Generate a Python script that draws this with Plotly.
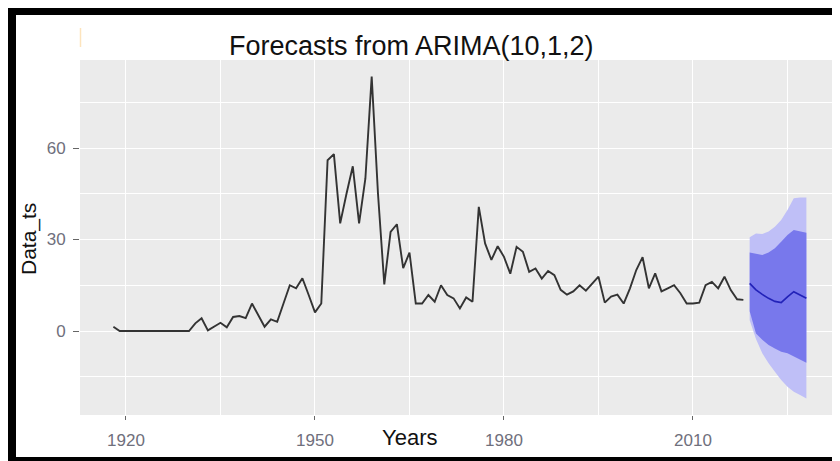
import plotly.graph_objects as go

# ---------------- data ----------------
obs_years = list(range(1918, 2019))
obs_values = [
    1.4, 0, 0, 0, 0, 0, 0, 0, 0, 0, 0, 0, 0,          # 1918-1930
    2.5, 4.2, 0.2, 1.4, 2.7, 1.2, 4.6, 4.9, 4.2, 9.0,  # 1931-1940
    5.2, 1.4, 3.8, 3.0, 9.0, 15.0, 14.0, 17.3, 11.8, 6.1,  # 1941-1950
    9.0, 56.0, 58.0, 35.3, 45.0, 54.0, 35.3, 50.0, 83.4, 45.0,  # 1951-1960
    15.3, 32.5, 35.0, 20.6, 25.7, 9.0, 9.0, 11.8, 9.6, 15.0,  # 1961-1970
    11.8, 10.7, 7.4, 11.0, 9.6, 40.7, 28.7, 23.3, 27.8, 24.3,  # 1971-1980
    18.8, 27.6, 26.0, 19.4, 20.5, 17.2, 19.7, 18.3, 13.5, 11.9,  # 1981-1990
    13.0, 15.0, 13.2, 15.4, 17.8, 9.3, 11.3, 11.9, 9.0, 14.0,  # 1991-2000
    20.0, 24.2, 14.0, 18.9, 13.0, 14.0, 15.0, 12.4, 9.0, 9.0,  # 2001-2010
    9.3, 15.0, 16.1, 14.0, 17.8, 13.4, 10.4, 10.2,  # 2011-2018
]

fc_years = list(range(2019, 2029))
fc_mean = [15.6, 13.5, 12.0, 10.7, 9.7, 9.3, 11.2, 12.9, 11.8, 10.7]
fc_hi80 = [25.7, 25.2, 24.9, 25.7, 27.1, 29.3, 31.5, 33.1, 32.6, 32.2]
fc_lo80 = [6.5, -0.8, -2.9, -4.6, -5.7, -6.8, -7.3, -8.4, -9.5, -10.4]
fc_hi95 = [30.7, 32.0, 31.8, 32.6, 34.2, 36.4, 39.7, 43.5, 43.8, 43.8]
fc_lo95 = [3.5, -2.6, -7.3, -10.6, -13.4, -16.1, -18.3, -19.9, -21.0, -22.1]

x_ticks = [1920, 1950, 1980, 2010]
x_minor = [1935, 1965, 1995, 2025]
y_ticks = [0, 30, 60]
y_minor = [-15, 15, 45, 75]

title_text = "Forecasts from ARIMA(10,1,2)"
x_title = "Years"
y_title = "Data_ts"

# ---------------- figure ----------------
# The page body has an 8px margin, so the figure starts at page (8, 8).
OFF = 8
W, H = 840 - OFF, 461 - OFF
# plot area in page pixels: x 80..837, y 60..415
ML, MR, MT, MB = 80 - OFF, 840 - 837, 60 - OFF, 461 - 415
PW, PH = W - ML - MR, H - MT - MB


def px_x(p):
    """page x pixel -> paper coordinate"""
    return (p - OFF - ML) / PW


def px_y(p):
    """page y pixel -> paper coordinate"""
    return (H - MB - (p - OFF)) / PH


fig = go.Figure()

fig.add_trace(go.Scatter(x=fc_years, y=fc_hi95, mode="lines",
                         line=dict(width=0), hoverinfo="skip"))
fig.add_trace(go.Scatter(x=fc_years, y=fc_lo95, mode="lines", fill="tonexty",
                         fillcolor="#bfbff7", line=dict(width=0), hoverinfo="skip"))
fig.add_trace(go.Scatter(x=fc_years, y=fc_hi80, mode="lines",
                         line=dict(width=0), hoverinfo="skip"))
fig.add_trace(go.Scatter(x=fc_years, y=fc_lo80, mode="lines", fill="tonexty",
                         fillcolor="#7878ec", line=dict(width=0), hoverinfo="skip"))
fig.add_trace(go.Scatter(x=fc_years, y=fc_mean, mode="lines",
                         line=dict(color="#2222b8", width=1.7)))
fig.add_trace(go.Scatter(x=obs_years, y=obs_values, mode="lines",
                         line=dict(color="#333333", width=1.9)))

tick_font = dict(family="Liberation Sans, Arial, sans-serif", size=17, color="#6f6f7c")

fig.update_layout(
    width=W, height=H,
    margin=dict(l=ML, r=MR, t=MT, b=MB, pad=0),
    paper_bgcolor="white",
    plot_bgcolor="#EBEBEB",
    showlegend=False,
    xaxis=dict(
        range=[1912.7, 2032.86],
        tickvals=x_ticks, ticktext=[str(v) for v in x_ticks],
        ticks="outside", ticklen=4, tickwidth=1, tickcolor="#666666",
        showgrid=True, gridcolor="white", gridwidth=1.3,
        minor=dict(tickvals=x_minor, showgrid=True, gridcolor="white", gridwidth=0.7),
        zeroline=False, showline=False,
        tickfont=tick_font, ticklabelstandoff=6,
    ),
    yaxis=dict(
        range=[-27.54, 88.85],
        tickvals=y_ticks, ticktext=[str(v) for v in y_ticks],
        ticks="outside", ticklen=6, tickwidth=1, tickcolor="#666666",
        showgrid=True, gridcolor="white", gridwidth=1.3,
        minor=dict(tickvals=y_minor, showgrid=True, gridcolor="white", gridwidth=0.7),
        zeroline=False, showline=False,
        tickfont=tick_font, ticklabelstandoff=4,
    ),
)

ann_font = "Liberation Sans, Arial, sans-serif"
fig.add_annotation(text=title_text, xref="paper", yref="paper",
                   x=px_x(411), y=px_y(46), xanchor="center", yanchor="middle",
                   showarrow=False, font=dict(family=ann_font, size=27, color="#111111"))
fig.add_annotation(text=x_title, xref="paper", yref="paper",
                   x=px_x(409), y=px_y(438), xanchor="center", yanchor="middle",
                   showarrow=False, font=dict(family=ann_font, size=22, color="#111111"))
fig.add_annotation(text=y_title, xref="paper", yref="paper",
                   x=px_x(29), y=px_y(239), xanchor="center", yanchor="middle",
                   textangle=-90,
                   showarrow=False, font=dict(family=ann_font, size=21, color="#111111"))

# black frame (top, left, bottom) and small artifact line
shapes = [
    dict(type="rect", xref="paper", yref="paper", x0=px_x(8), x1=px_x(841),
         y0=px_y(15), y1=px_y(7), fillcolor="black", line=dict(width=0), layer="above"),
    dict(type="rect", xref="paper", yref="paper", x0=px_x(8), x1=px_x(16),
         y0=px_y(462), y1=px_y(7), fillcolor="black", line=dict(width=0), layer="above"),
    dict(type="rect", xref="paper", yref="paper", x0=px_x(8), x1=px_x(841),
         y0=px_y(462), y1=px_y(457), fillcolor="black", line=dict(width=0), layer="above"),
    dict(type="line", xref="paper", yref="paper", x0=px_x(80.5), x1=px_x(80.5),
         y0=px_y(28), y1=px_y(47), line=dict(color="#fde4bd", width=1.5), layer="above"),
]
fig.update_layout(shapes=shapes)

fig.write_html("out.html")
